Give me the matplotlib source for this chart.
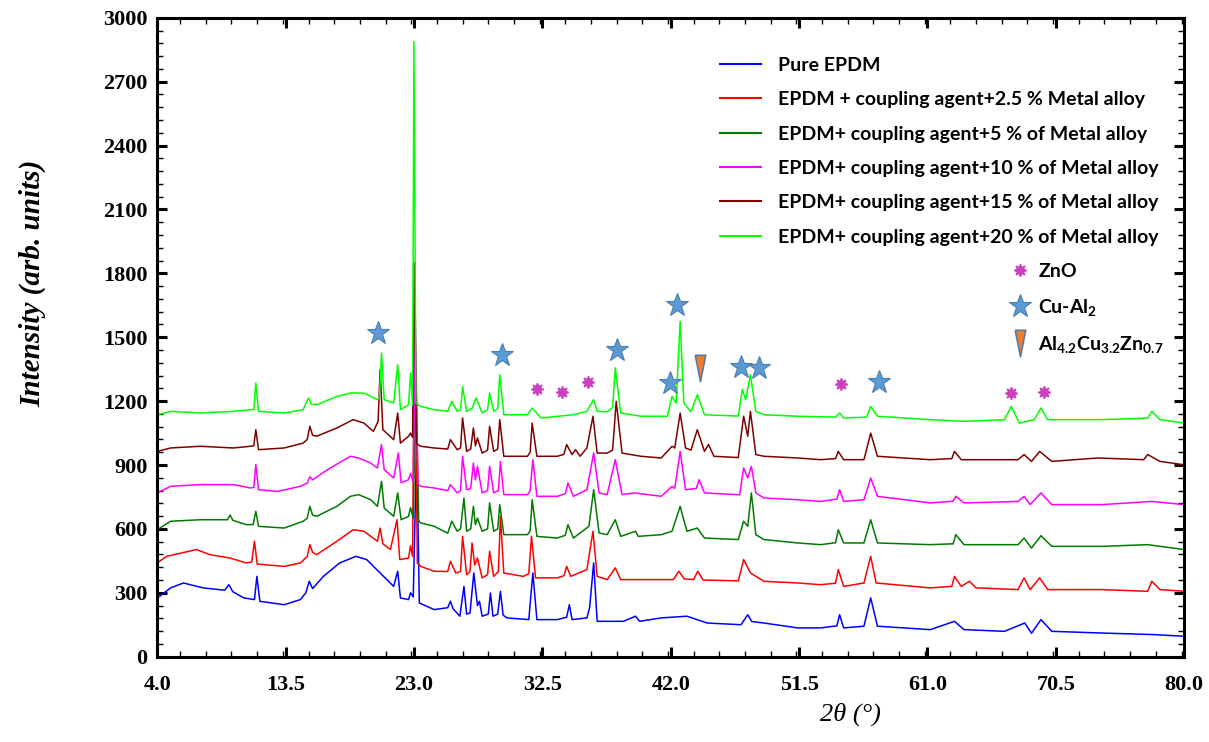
import matplotlib
matplotlib.use("Agg")
import matplotlib.pyplot as plt
from matplotlib.lines import Line2D
from matplotlib.ticker import MultipleLocator, FormatStrFormatter

plt.rcParams['mathtext.fontset'] = 'custom'
plt.rcParams['mathtext.rm'] = 'Lato:bold'
plt.rcParams['mathtext.default'] = 'rm'

# ---- data (2theta in degrees, intensity in arb. units)
pure_x = [4.0, 5.0, 5.95, 7.4, 9.0, 9.3, 9.6, 10.4, 11.2, 11.38, 11.6, 13.4, 14.6, 15.0, 15.25, 15.5,
          16.3, 17.5, 18.7, 19.5, 20.5, 21.5, 21.8, 22.0, 22.6, 22.75, 22.95, 23.2, 23.4, 24.5, 25.5,
          25.7, 25.9, 26.4, 26.7, 26.9, 27.15, 27.43, 27.7, 27.85, 28.05, 28.5, 28.66, 28.85, 29.2,
          29.4, 29.6, 29.9, 31.5, 31.8, 32.1, 33.6, 34.3, 34.5, 34.7, 35.8, 36.0, 36.3, 36.56, 38.5,
          39.4, 39.7, 41.3, 43.2, 44.7, 47.2, 47.7, 48.0, 48.9, 51.4, 53.1, 54.3, 54.5, 54.8, 56.3,
          56.8, 57.3, 61.2, 63.0, 63.7, 66.7, 68.2, 68.7, 69.4, 70.2, 73.9, 77.6, 80.0]
pure_y = [275, 323, 346, 323, 312, 338, 305, 276, 268, 377, 260, 244, 268, 300, 354, 320,
          377, 440, 471, 456, 393, 330, 401, 276, 268, 300, 280, 1000, 252, 221, 230,
          260, 225, 190, 330, 200, 205, 393, 240, 260, 190, 200, 299, 190, 200,
          307, 195, 182, 174, 393, 174, 174, 185, 244, 174, 182, 230, 440, 166, 166,
          190, 166, 182, 190, 158, 150, 197, 165, 158, 135, 135, 145, 197, 135, 143,
          276, 143, 127, 166, 127, 119, 158, 110, 174, 119, 111, 104, 96]

p25_x = [4.0, 4.7, 6.9, 7.9, 9.4, 10.6, 11.0, 11.2, 11.4, 13.4, 14.6, 15.1, 15.3, 15.5, 15.8, 17.3,
         18.5, 19.3, 20.3, 20.5, 20.7, 21.26, 21.75, 21.95, 22.6, 22.75, 22.9, 23.05, 23.25, 23.5,
         24.5, 25.5, 25.7, 26.1, 26.45, 26.6, 26.9, 27.15, 27.3, 27.5, 27.7, 28.05, 28.45, 28.6,
         28.9, 29.25, 29.4, 29.65, 31.1, 31.5, 31.7, 32.0, 33.6, 34.1, 34.3, 34.6, 35.8, 36.25,
         36.56, 37.3, 37.9, 38.3, 42.2, 42.6, 43.0, 43.7, 44.0, 44.4, 47.0, 47.4, 47.9, 48.9, 51.4,
         53.1, 54.2, 54.4, 54.8, 56.3, 56.8, 57.2, 61.2, 62.8, 63.0, 63.5, 64.1, 64.6, 67.7, 68.15,
         68.6, 69.3, 69.9, 73.9, 77.3, 77.6, 78.2, 80.0]
p25_y = [440, 471, 503, 479, 463, 440, 445, 542, 435, 424, 440, 470, 526, 490, 479, 542,
         596, 589, 542, 604, 530, 503, 643, 456, 463, 520, 470, 1720, 440, 424,
         401, 400, 448, 393, 400, 565, 385, 400, 534, 430, 463, 370, 385, 495,
         377, 400, 659, 393, 377, 390, 565, 370, 370, 380, 424, 377, 409, 589,
         377, 362, 417, 362, 362, 401, 365, 362, 401, 360, 356, 456, 393, 354, 346,
         338, 345, 409, 330, 346, 471, 346, 323, 330, 377, 330, 354, 323, 315, 370,
         315, 370, 315, 315, 307, 354, 315, 307]

p5_x = [4.0, 5.0, 7.2, 9.2, 9.4, 9.6, 10.6, 11.1, 11.3, 11.5, 13.4, 14.8, 15.1, 15.3, 15.5, 15.8,
        17.3, 18.3, 18.9, 19.8, 20.3, 20.6, 20.8, 21.5, 21.8, 22.05, 22.6, 22.75, 22.95, 23.15,
        23.35, 23.5, 24.5, 25.5, 25.8, 26.2, 26.45, 26.7, 26.9, 27.2, 27.4, 27.55, 27.7, 28.05,
        28.45, 28.6, 28.9, 29.2, 29.35, 29.65, 31.4, 31.6, 31.75, 32.1, 33.6, 34.2, 34.4, 34.8,
        35.95, 36.3, 36.7, 37.3, 37.9, 38.3, 39.4, 39.6, 41.3, 42.1, 42.7, 43.2, 43.97, 44.5,
        47.0, 47.4, 47.7, 47.97, 48.3, 48.9, 51.4, 53.1, 54.2, 54.4, 54.8, 56.3, 56.8, 57.3,
        61.2, 62.9, 63.1, 63.7, 67.7, 68.15, 68.7, 69.4, 70.2, 73.9, 77.3, 80.0]
p5_y = [596, 636, 643, 643, 665, 640, 620, 620, 683, 612, 604, 636, 650, 706, 665, 659,
        706, 753, 761, 737, 706, 823, 698, 659, 769, 643, 659, 700, 650, 1300,
        640, 628, 612, 580, 636, 589, 600, 745, 589, 600, 706, 620, 651, 589,
        600, 722, 589, 600, 714, 573, 573, 590, 737, 565, 557, 570, 620, 557,
        612, 784, 581, 573, 643, 565, 589, 565, 573, 589, 706, 589, 604, 557,
        550, 636, 612, 769, 573, 550, 534, 526, 535, 596, 534, 534, 643, 534,
        526, 530, 573, 526, 526, 557, 510, 568, 518, 518, 526, 503]

p10_x = [4.0, 5.0, 7.2, 9.65, 10.9, 11.15, 11.3, 11.5, 12.9, 14.6, 15.1, 15.3, 15.5, 16.6, 18.3,
         18.9, 19.8, 20.3, 20.6, 20.8, 21.5, 21.85, 22.05, 22.6, 22.75, 22.95, 23.1, 23.3, 23.5,
         24.5, 25.5, 25.7, 26.2, 26.45, 26.6, 26.9, 27.2, 27.4, 27.55, 27.7, 28.05, 28.45, 28.6,
         28.9, 29.25, 29.4, 29.65, 31.4, 31.6, 31.8, 32.1, 33.6, 34.2, 34.4, 34.8, 35.8, 36.3,
         36.7, 37.3, 37.9, 38.4, 39.3, 41.3, 42.1, 42.3, 42.7, 43.1, 43.9, 44.1, 44.5, 47.1, 47.4,
         47.7, 47.97, 48.3, 48.9, 51.4, 53.1, 54.3, 54.5, 54.8, 56.3, 56.8, 57.3, 61.2, 62.9, 63.1,
         63.7, 67.7, 68.15, 68.6, 69.4, 70.2, 73.9, 77.6, 80.0]
p10_y = [769, 800, 808, 808, 792, 795, 902, 784, 776, 800, 815, 845, 830, 878, 941,
         933, 909, 886, 996, 878, 839, 957, 816, 831, 860, 820, 1600, 810, 800,
         792, 780, 808, 769, 780, 941, 784, 790, 909, 830, 894, 769, 780, 894,
         769, 780, 917, 761, 761, 780, 925, 753, 753, 765, 816, 753, 784, 957,
         769, 761, 925, 761, 769, 753, 800, 790, 964, 784, 790, 831, 769, 760, 886,
         839, 894, 769, 745, 737, 729, 740, 784, 729, 737, 839, 753, 722, 730, 753,
         722, 729, 753, 714, 769, 714, 714, 729, 714]

p15_x = [4.0, 5.0, 7.2, 9.65, 10.9, 11.15, 11.3, 11.5, 13.4, 14.8, 15.1, 15.3, 15.5, 15.8, 17.3,
         18.5, 19.3, 20.0, 20.35, 20.5, 20.7, 21.5, 21.8, 22.0, 22.6, 22.75, 22.9, 23.02, 23.2,
         23.5, 24.5, 25.5, 25.7, 26.2, 26.45, 26.6, 26.9, 27.2, 27.4, 27.55, 27.7, 28.05, 28.45,
         28.6, 28.9, 29.2, 29.35, 29.65, 31.4, 31.6, 31.75, 32.1, 33.6, 34.1, 34.3, 34.7, 34.96,
         35.3, 35.8, 36.25, 36.56, 37.3, 37.7, 37.97, 38.4, 39.8, 41.3, 42.1, 42.3, 42.7, 43.1,
         43.5, 43.97, 44.5, 44.8, 45.2, 47.0, 47.4, 47.7, 47.9, 48.3, 48.9, 51.4, 53.1, 54.2,
         54.4, 54.8, 56.3, 56.8, 57.3, 61.2, 62.8, 63.0, 63.5, 67.7, 68.15, 68.7, 69.3, 70.2,
         73.6, 77.0, 77.3, 78.2, 80.0]
p15_y = [964, 980, 988, 980, 988, 990, 1066, 972, 980, 1003, 1020, 1082, 1040, 1035, 1074,
         1113, 1097, 1058, 1105, 1348, 1066, 1019, 1144, 1003, 1035, 1050, 1030, 1850, 1000,
         988, 980, 975, 1019, 972, 980, 1121, 964, 975, 1074, 990, 1027, 956, 970,
         1082, 964, 975, 1113, 941, 941, 960, 1097, 941, 941, 950, 996, 949, 972,
         941, 980, 1129, 956, 956, 970, 1199, 956, 941, 933, 988, 980, 1144, 980,
         970, 1066, 964, 996, 941, 935, 1129, 1035, 1152, 949, 941, 933, 925, 930,
         964, 925, 925, 1050, 941, 925, 930, 964, 925, 925, 949, 917, 964, 917,
         933, 925, 949, 917, 901]

p20_x = [4.0, 5.0, 7.2, 9.65, 10.9, 11.15, 11.3, 11.5, 13.4, 14.8, 15.2, 15.4, 15.8, 17.3, 18.3,
         19.3, 20.3, 20.45, 20.6, 20.8, 21.5, 21.8, 22.0, 22.6, 22.75, 22.9, 23.0, 23.15, 23.5,
         24.5, 25.5, 25.8, 26.2, 26.45, 26.6, 26.9, 27.3, 27.6, 28.05, 28.45, 28.6, 28.9, 29.2,
         29.35, 29.65, 31.4, 31.75, 32.4, 34.8, 35.8, 36.3, 36.56, 37.3, 37.7, 37.9, 38.3, 39.8,
         41.75, 42.1, 42.4, 42.7, 42.97, 43.5, 43.97, 44.5, 47.0, 47.3, 47.55, 47.9, 48.3, 48.9,
         51.4, 54.2, 54.5, 54.8, 56.5, 56.8, 57.3, 61.2, 63.7, 66.7, 67.2, 67.8, 68.9, 69.4, 69.9,
         73.9, 77.3, 77.6, 78.2, 80.0]
p20_y = [1136, 1152, 1144, 1152, 1160, 1160, 1285, 1152, 1144, 1160, 1215, 1185, 1183, 1222, 1238,
         1238, 1207, 1215, 1426, 1207, 1191, 1371, 1160, 1183, 1332, 1180, 2889, 1190, 1175,
         1160, 1152, 1199, 1152, 1160, 1269, 1152, 1165, 1215, 1144, 1160, 1238, 1152, 1165,
         1324, 1136, 1136, 1168, 1121, 1136, 1152, 1207, 1152, 1150, 1170, 1356, 1144, 1129,
         1129, 1222, 1191, 1575, 1191, 1150, 1230, 1136, 1130, 1254, 1207, 1324, 1152, 1136,
         1129, 1125, 1144, 1121, 1125, 1175, 1129, 1113, 1105, 1113, 1175, 1097, 1113, 1168, 1113,
         1113, 1120, 1152, 1113, 1097]

series_labels = ['Pure EPDM',
                 'EPDM + coupling agent+2.5 % Metal alloy',
                 'EPDM+ coupling agent+5 % of Metal alloy',
                 'EPDM+ coupling agent+10 % of Metal alloy',
                 'EPDM+ coupling agent+15 % of Metal alloy',
                 'EPDM+ coupling agent+20 % of Metal alloy']
series_colors = ['#0000FF', '#FF0000', '#007A00', '#FF00FF', '#800000', '#00FF00']

# phase markers (peak assignments)
zno_x = [32.07, 33.98, 35.9, 54.6, 67.2, 69.6]
zno_y = [1258, 1244, 1291, 1282, 1240, 1244]
cual_x = [20.35, 29.53, 38.05, 42.44, 41.93, 47.19, 48.5, 57.4]
cual_y = [1521, 1418, 1441, 1653, 1286, 1362, 1357, 1291]
alcuzn_x = [44.15]
alcuzn_y = [1357]

x_ticks = [4.0, 13.5, 23.0, 32.5, 42.0, 51.5, 61.0, 70.5, 80.0]
y_ticks = [0, 300, 600, 900, 1200, 1500, 1800, 2100, 2400, 2700, 3000]

# ---- figure
fig = plt.figure(figsize=(12.09, 7.42), dpi=100)
ax = fig.add_axes([0.130, 0.115, 0.8495, 0.861])

all_x = [pure_x, p25_x, p5_x, p10_x, p15_x, p20_x]
all_y = [pure_y, p25_y, p5_y, p10_y, p15_y, p20_y]
for xs, ys, c, lab in zip(all_x, all_y, series_colors, series_labels):
    ax.plot(xs, ys, color=c, lw=1.1, label=lab)

star_col = '#5B9BD5'
star_edge = '#4A7DB0'
zno_col = '#CC3FBF'
tri_shape = [(-0.4, 1.0), (0.4, 1.0), (0.0, -1.0), (-0.4, 1.0)]

ax.plot(zno_x, zno_y, ls='none', marker=(8, 1, 0), ms=9, color=zno_col, mec=zno_col)
ax.plot(cual_x, cual_y, ls='none', marker='*', ms=17, mfc=star_col, mec=star_edge, mew=0.8)
ax.plot(alcuzn_x, alcuzn_y, ls='none', marker=tri_shape, ms=19, mfc='#ED7D31', mec='#5A7BA0', mew=1.2)

ax.set_xlim(4, 80)
ax.set_ylim(0, 3000)
ax.set_xticks(x_ticks)
ax.set_yticks(y_ticks)
ax.xaxis.set_minor_locator(MultipleLocator(1.9))
ax.yaxis.set_minor_locator(MultipleLocator(60))
ax.xaxis.set_major_formatter(FormatStrFormatter('%.1f'))

for sp in ax.spines.values():
    sp.set_linewidth(2.2)

ax.tick_params(which='both', direction='in', top=True, right=True)
ax.tick_params(which='major', length=7, width=2.2)
ax.tick_params(which='minor', length=4, width=1.0)
ax.tick_params(axis='x', which='major', pad=13)
ax.tick_params(axis='y', which='major', pad=7)
for lbl in ax.get_xticklabels() + ax.get_yticklabels():
    lbl.set_fontfamily('Liberation Serif')
    lbl.set_fontweight('bold')
    lbl.set_fontsize(16)

ax.set_ylabel('Intensity (arb. units)', fontsize=21, fontweight='bold', style='italic',
              family='Liberation Serif')
ax.yaxis.set_label_coords(-0.108, 0.585)
ax.set_xlabel('2θ (°)', fontsize=19, style='italic', family='Liberation Serif')
ax.xaxis.set_label_coords(0.675, -0.072)

# ---- legends
leg_font = {'family': 'Lato', 'weight': 'bold', 'size': 14}
line_handles = [Line2D([], [], color=c, lw=1.5) for c in series_colors]
leg1 = ax.legend(line_handles, series_labels, loc='upper left',
                 bbox_to_anchor=(720 / 1209, 1 - 57 / 742), bbox_transform=fig.transFigure,
                 frameon=False, prop=leg_font, handlelength=2.1, handletextpad=0.9,
                 labelspacing=0.89, borderpad=0, borderaxespad=0)
ax.add_artist(leg1)

mark_handles = [Line2D([], [], ls='none', marker=(8, 1, 0), ms=9, color=zno_col),
                Line2D([], [], ls='none', marker='*', ms=17, mfc=star_col, mec=star_edge, mew=0.8),
                Line2D([], [], ls='none', marker=tri_shape, ms=19, mfc='#ED7D31', mec='#5A7BA0',
                       mew=1.2)]
mark_labels = ['ZnO', 'Cu-Al$_2$', 'Al$_{4.2}$Cu$_{3.2}$Zn$_{0.7}$']
leg2 = ax.legend(mark_handles, mark_labels, loc='upper left',
                 bbox_to_anchor=(1010 / 1209, 1 - 263 / 742), bbox_transform=fig.transFigure,
                 frameon=False, prop=leg_font, handlelength=1.0, handletextpad=0.45,
                 labelspacing=0.85, borderpad=0, borderaxespad=0)

fig.savefig('out.png', dpi=100)
